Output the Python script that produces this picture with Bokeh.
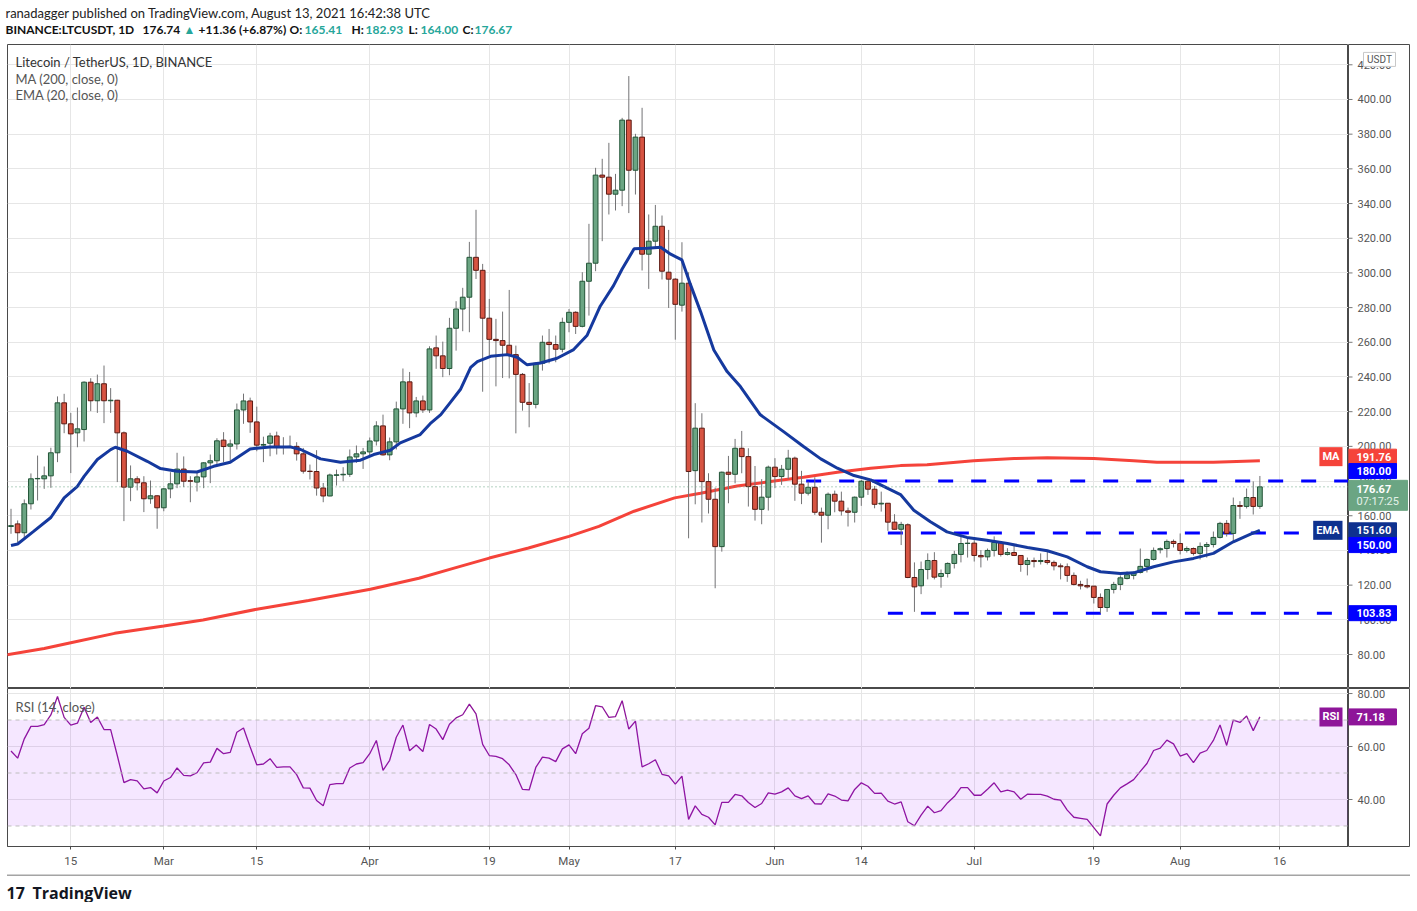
from bokeh.plotting import figure
from bokeh.models import Range1d, FixedTicker, Label, Span, ColumnDataSource, BoxAnnotation
from bokeh.layouts import column, row
from bokeh.core.properties import value
from bokeh.embed import file_html
from bokeh.resources import INLINE

# ---------------- data (day 0 = 2021-02-06, daily candles to 2021-08-13) ----------------
opens = [153.8,155.3,150.2,166.9,181.3,181.3,183.0,196.3,225.1,213.0,
         207.8,209.7,237.0,226.3,236.1,226.3,226.6,207.8,176.5,181.3,
         179.0,169.8,171.5,164.6,175.5,178.4,186.9,180.2,179.4,182.4,
         190.5,191.7,203.6,200.1,201.4,221.0,226.2,214.1,200.7,201.8,
         206.0,199.7,199.8,200.0,195.7,185.7,185.5,176.0,171.4,183.3,
         183.6,183.9,193.9,195.7,196.8,203.1,211.8,195.1,202.6,221.6,
         237.2,219.3,226.2,221.0,256.8,252.2,244.9,268.1,279.2,286.0,
         309.0,301.5,273.9,261.7,261.0,258.3,252.9,241.5,225.4,224.2,
         247.9,260.0,258.7,256.0,271.5,277.3,269.2,295.2,305.6,356.4,
         355.2,345.4,347.7,388.1,359.2,378.3,310.8,318.3,326.9,300.4,
         296.4,281.4,294.1,186.0,210.5,179.7,169.5,142.2,185.1,183.9,
         198.9,194.1,176.8,163.7,170.7,188.0,182.6,186.8,193.2,178.2,
         173.0,176.4,162.0,160.3,172.4,168.4,162.8,162.0,170.7,179.9,
         175.3,166.8,167.2,156.3,152.2,154.8,124.4,119.6,129.0,134.2,
         125.0,126.7,132.5,137.7,144.0,144.2,137.1,136.3,140.0,144.6,
         137.7,138.8,137.1,131.9,134.2,133.6,134.2,133.1,131.1,130.6,
         125.6,120.4,119.8,119.4,112.9,107.1,117.5,120.4,123.8,125.6,
         127.3,130.8,134.8,140.4,141.1,145.2,144.0,140.0,141.1,138.3,
         142.3,143.4,147.5,155.6,149.8,165.9,165.4,170.5,165.41]
highs = [164.0,157.3,169.4,184.4,194.7,188.4,199.2,228.8,230.3,219.3,
         222.4,237.5,239.3,241.4,246.6,233.6,226.8,208.6,189.0,182.8,
         182.8,180.3,171.8,175.9,185.1,196.3,194.2,182.8,184.7,190.9,
         195.3,204.7,208.2,203.9,224.7,230.4,228.1,222.9,205.6,207.8,
         208.5,205.3,206.2,202.4,199.1,189.5,197.8,178.9,184.3,186.6,
         188.0,198.2,200.5,199.1,205.1,214.5,218.3,205.1,225.8,244.9,
         242.9,228.5,229.3,257.7,263.9,260.4,274.1,283.7,291.4,317.9,
         336.4,305.2,285.0,273.5,277.7,290.2,258.1,242.3,236.5,248.5,
         263.9,267.7,263.9,274.2,279.2,277.9,300.4,328.3,360.6,365.8,
         375.0,357.1,389.4,413.5,380.2,395.2,333.7,339.2,333.1,324.8,
         297.0,317.7,300.4,224.9,219.1,184.5,176.2,185.5,194.5,204.3,
         208.9,198.9,188.7,181.1,188.9,193.2,189.3,198.0,194.1,185.9,
         179.7,182.2,164.7,173.4,174.5,173.9,164.7,171.1,180.7,181.6,
         177.2,173.9,167.3,160.9,156.5,155.6,133.1,133.6,138.3,139.0,
         129.0,133.1,139.8,149.2,147.5,145.9,140.2,141.1,148.1,144.8,
         141.3,142.9,137.3,135.9,135.9,138.3,139.6,134.2,132.5,132.5,
         127.3,122.5,123.8,119.6,115.2,117.6,121.9,125.6,127.9,127.9,
         141.1,135.4,141.7,141.7,146.3,146.3,149.8,142.3,141.7,144.6,
         144.8,150.9,156.5,157.5,170.5,168.4,175.7,179.8,182.93]
lows = [149.6,144.8,146.7,163.6,168.8,175.5,176.1,190.9,207.6,184.6,
        199.5,202.8,220.3,219.3,213.4,219.3,179.4,156.9,168.4,174.6,
        162.1,166.9,152.5,162.6,170.1,175.9,176.5,167.8,174.0,175.9,
        178.8,188.4,190.9,191.4,198.2,213.0,207.8,197.2,190.9,194.3,
        195.3,195.3,199.1,191.8,184.3,180.9,171.6,167.8,171.2,177.4,
        179.9,182.4,190.5,187.0,194.3,200.5,194.7,192.0,198.2,213.0,
        210.5,216.8,219.3,219.3,244.7,239.9,241.0,255.2,266.4,265.8,
        296.5,231.5,252.3,234.6,239.4,239.2,207.5,220.6,211.0,221.9,
        243.7,247.9,248.5,254.2,265.8,264.8,268.6,275.4,301.0,318.3,
        333.7,336.0,338.5,334.5,345.2,301.4,290.8,313.9,296.2,279.8,
        261.5,277.7,147.0,166.6,156.1,161.3,118.2,139.3,167.2,178.7,
        184.5,165.3,157.2,155.1,163.0,175.9,177.8,181.2,168.6,166.7,
        171.7,160.5,144.5,152.2,162.0,160.1,153.8,156.1,165.7,172.0,
        164.3,162.4,151.3,152.0,143.1,124.0,104.6,114.8,123.3,123.3,
        118.5,124.4,129.6,133.1,135.9,133.6,130.2,134.2,136.5,136.5,
        137.1,136.9,127.7,125.6,130.2,131.9,131.9,128.5,123.3,121.9,
        119.8,117.5,118.1,109.4,103.7,104.6,115.2,117.1,123.3,123.3,
        126.7,127.3,134.2,138.3,135.9,141.7,137.7,138.8,137.1,134.8,
        135.9,141.7,146.9,148.0,145.0,158.2,164.2,160.7,164.0]
closes = [154.3,150.2,166.9,181.3,181.5,183.0,196.3,225.1,213.0,207.2,
          210.1,237.0,226.3,236.1,226.3,226.6,207.8,176.5,181.3,179.0,
          169.8,171.5,164.6,175.5,178.4,186.9,179.9,179.9,182.4,190.5,
          191.7,203.2,199.9,201.4,221.0,226.2,214.1,200.7,201.1,206.0,
          199.7,199.9,200.0,195.7,185.7,185.5,176.0,171.4,183.5,183.6,
          183.9,193.9,195.7,196.8,203.1,211.8,195.1,202.6,221.6,237.2,
          219.3,226.2,221.0,256.2,252.2,244.9,268.1,279.2,286.0,309.0,
          301.5,273.9,261.7,261.0,258.3,252.9,241.5,225.4,224.2,247.9,
          260.0,258.7,256.0,271.5,277.3,269.2,295.2,305.6,356.4,355.2,
          345.4,347.7,388.1,359.2,378.3,310.8,318.3,326.9,301.0,296.4,
          281.9,294.1,185.5,210.5,179.7,169.5,142.2,185.1,183.9,198.9,
          194.1,176.8,163.7,170.7,188.0,182.6,186.8,193.2,178.2,173.0,
          176.4,162.0,160.3,172.4,168.4,162.8,162.0,170.7,179.9,175.3,
          166.6,167.2,156.3,152.2,155.0,124.4,119.0,129.0,134.2,124.6,
          126.7,132.5,137.7,144.0,144.2,137.1,136.3,140.0,144.6,137.7,
          138.8,137.1,131.9,134.2,133.6,134.2,133.1,131.1,130.6,125.6,
          120.4,119.6,119.0,112.9,107.1,117.5,120.4,124.2,126.0,127.3,
          130.8,134.8,140.0,141.0,145.2,144.0,140.0,141.1,138.3,142.3,
          143.4,147.5,155.6,149.8,165.9,165.4,170.5,165.38,176.67]

rsi = [58.3,55.6,62.9,67.6,67.6,68.3,71.9,78.9,71.0,68.1,
       68.8,74.8,69.1,71.1,66.4,66.4,56.6,46.4,47.5,47.0,
       44.0,44.5,42.5,47.0,48.3,51.9,49.1,48.9,50.1,53.8,
       54.1,59.3,57.3,57.8,65.4,67.0,59.8,53.1,53.4,55.4,
       52.1,52.3,52.3,49.4,44.4,44.3,39.6,37.6,45.6,46.0,
       46.0,51.9,53.4,53.9,57.3,62.3,51.0,54.8,63.5,68.1,
       58.4,60.6,58.1,68.3,66.6,62.6,68.4,70.8,72.0,76.0,
       72.3,60.8,56.6,56.3,55.4,53.1,49.4,43.8,43.6,52.1,
       56.0,55.6,54.3,59.1,60.6,57.3,64.8,66.9,75.4,75.0,
       71.0,71.3,77.3,66.6,69.6,52.3,53.5,55.0,49.5,48.9,
       45.8,48.8,32.5,37.6,34.4,33.3,30.4,38.9,38.9,41.9,
       41.4,38.9,37.0,38.5,42.5,42.0,42.9,44.4,41.4,40.3,
       41.4,38.4,38.3,42.1,41.3,39.8,39.5,43.8,46.3,45.0,
       42.3,42.4,39.4,38.3,39.1,31.6,30.1,34.1,37.5,35.0,
       35.8,38.8,41.1,44.5,44.5,41.6,41.6,43.9,46.3,42.9,
       43.5,42.9,40.1,42.0,41.9,41.9,41.3,40.1,39.8,36.0,
       33.3,32.9,32.5,29.4,26.3,38.3,41.6,44.4,45.9,47.5,
       50.6,53.6,58.5,59.4,62.4,61.0,56.4,57.3,53.9,57.5,
       58.5,62.3,68.1,60.4,70.0,69.1,71.5,66.0,71.18]

ema_day = [0, 1, 3.4, 6, 8, 10, 11, 13, 15, 15.7, 17.5, 20.5, 22.5, 25, 28, 30.5, 33, 36, 39, 42,
           43.6, 46.6, 49.6, 52.6, 54.6, 57.1, 58.6, 61.6, 63.1, 64.7, 66.2, 67.7, 69.2, 70.2, 72.2,
           74.7, 76.2, 77.7, 79.7, 82.2, 84.7, 86.7, 88.7, 90.7, 92, 93.8, 95.8, 97.8, 99.3, 101,
           102.3, 103.8, 105.8, 107.8, 109.8, 112.8, 116.3, 119.3, 121.9, 124.4, 126.9, 129.4, 131.9,
           133.9, 135.9, 138.4, 140.9, 143.9, 146.9, 150, 153, 156, 159, 162, 164, 167, 169, 172, 175,
           178, 181, 184, 186.6, 188]
ema_val = [142.8, 143.7, 151, 159, 170.3, 177, 182.7, 192.4, 198.1, 199.5, 197.2, 191.4, 187.2, 185.6,
           185.2, 188.5, 190.8, 198.5, 199.7, 199.7, 198.2, 192.8, 190.8, 192, 195.3, 197.8, 202, 206.8,
           213.1, 218.3, 225.7, 233.1, 245.6, 248.9, 251.9, 252.9, 251.4, 247, 248.1, 250.8, 255.8, 263.9,
           280.8, 292.7, 302.3, 313.9, 314.2, 314.8, 310.8, 307.5, 293.1, 277.7, 255.6, 243.1, 234.5,
           218.2, 208.5, 199.9, 192.8, 187.4, 183.2, 180.7, 175.9, 172.2, 163.2, 156.5, 150.7, 147.5,
           145.9, 144, 141.7, 139.8, 136.3, 130.6, 127.7, 126.7, 127.1, 130.6, 133.4, 135.4, 138.3, 145,
           149.4, 151.6]

ma_day = [-0.6, 5, 9, 15.6, 23, 28.9, 37, 44.8, 54.1, 61.4, 66.7, 72, 77.9, 84, 88.5, 93.8, 99.9,
          103.8, 109.3, 114.3, 119.3, 124.4, 129.4, 133.9, 137.9, 144.9, 151, 156, 163, 169, 172.5, 181, 188]
ma_val = [79.8, 83.5, 86.8, 92.2, 96.4, 99.9, 106.1, 111.1, 117.6, 124, 129.8, 135.6, 141.4, 148.1, 153.9,
          162.6, 170.3, 173, 177.2, 179.7, 182.2, 185.1, 187.4, 188.9, 189.4, 191.7, 193, 193.4, 193,
          191.7, 190.9, 190.9, 191.76]

level_price = [180.0, 150.0, 103.83]
level_start = [119.7, 132.0, 132.0]

time_ticks = [9, 23, 37, 54, 72, 84, 100, 115, 128, 145, 163, 176, 191]
time_labels = ["15", "Mar", "15", "Apr", "19", "May", "17", "Jun", "14", "Jul", "19", "Aug", "16"]
price_ticks = [80, 100, 120, 140, 160, 180, 200, 220, 240, 260, 280, 300, 320, 340, 360, 380, 400, 420]
rsi_ticks = [40, 60, 80]

# ---------------- style ----------------
FONT = "Roboto"
UI = "Lato"
UP_FILL, UP_LINE = "#6BA583", "#225437"
DN_FILL, DN_LINE = "#D75442", "#5B1A13"
WICK = "#737375"
GRID = "#E6E6E6"
FRAME = "#4A4A4A"
MA_COL, EMA_COL, LVL_COL, RSI_COL = "#F5433A", "#15399E", "#0000FF", "#8E1599"
LEFT = 7                     # blank strip left of the chart frame
FRAME_W, SIDE_W = 1341, 62
MAIN_W = LEFT + FRAME_W
W = MAIN_W + SIDE_W
X0, X1 = -0.527, 201.34
PX_PRICE = 644 / (431.7 - 60.4)     # pixels per price unit

xr = Range1d(X0, X1)
yr_price = Range1d(60.4, 431.7)
yr_rsi = Range1d(22.26, 81.9)
n = len(closes)
days = list(range(n))
up = [c >= o for o, c in zip(opens, closes)]
src = ColumnDataSource(dict(
    x=days, h=highs, l=lows,
    top=[max(o, c) for o, c in zip(opens, closes)],
    bot=[min(o, c) for o, c in zip(opens, closes)],
    fill=[UP_FILL if u else DN_FILL for u in up],
    line=[UP_LINE if u else DN_LINE for u in up],
))


def plain(width, height, xrange, yrange, **kw):
    kw.setdefault("min_border", 0)
    return figure(width=width, height=height, x_range=xrange, y_range=yrange,
                  output_backend="svg", toolbar_location=None, x_axis_location=None,
                  y_axis_location=None, **kw)

# ---------------- header ----------------
hdr = plain(W, 44, Range1d(0, W), Range1d(44, 0), outline_line_color=None)
hdr.xgrid.visible = False
hdr.ygrid.visible = False
hdr.text(x=[5], y=[12], text=["ranadagger published on TradingView.com, August 13, 2021 16:42:38 UTC"],
         text_font=value(UI), text_font_size="13px", text_color="#222222", text_baseline="middle")
h2_text = ["BINANCE:LTCUSDT, 1D", "176.74", "\u25b2", "+11.36 (+6.87%)", "O:", "165.41",
           "H:", "182.93", "L:", "164.00", "C:", "176.67"]
h2_x = [5, 142, 183, 198, 289, 304, 351, 365, 408, 420, 462, 474]
h2_col = ["#111111", "#111111", "#26A69A", "#111111", "#111111", "#26A69A",
          "#111111", "#26A69A", "#111111", "#26A69A", "#111111", "#26A69A"]
hdr.text(x=h2_x, y=[29] * len(h2_x), text=h2_text, text_color=h2_col,
         text_font=value(UI), text_font_size="12px", text_font_style="bold", text_baseline="middle")

# ---------------- main price pane ----------------
main = plain(MAIN_W, 644, xr, yr_price, min_border_left=LEFT, min_border_right=0,
             min_border_top=0, min_border_bottom=0)
main.outline_line_color = FRAME
main.xgrid.ticker = FixedTicker(ticks=time_ticks)
main.ygrid.ticker = FixedTicker(ticks=price_ticks)
main.xgrid.grid_line_color = GRID
main.ygrid.grid_line_color = GRID

main.add_layout(Span(location=closes[-1], dimension="width", line_color="#6BA583",
                     line_dash="1 3", line_width=1))
main.line(ma_day, ma_val, line_color=MA_COL, line_width=3)
main.segment(x0=level_start, y0=level_price, x1=[X1] * 3, y1=level_price,
             line_color=LVL_COL, line_width=3, line_dash="15 18")
main.segment(x0="x", y0="h", x1="x", y1="l", source=src, line_color=WICK, line_width=1)
main.vbar(x="x", width=0.72, top="top", bottom="bot", source=src,
          fill_color="fill", line_color="line", line_width=1)
main.line(ema_day, ema_val, line_color=EMA_COL, line_width=3)


def legend(fig, y, text, color, y_units="screen"):
    fig.add_layout(Label(x=8, y=y, x_units="screen", y_units=y_units, text=text,
                         text_font=UI, text_font_size="13px", text_color=color,
                         text_baseline="middle"))

legend(main, 627, "Litecoin / TetherUS, 1D, BINANCE", "#333333")
legend(main, 610, "MA (200, close, 0)", "#555555")
legend(main, 594, "EMA (20, close, 0)", "#555555")


def inner_tag(fig, y, text, bg):
    fig.add_layout(Label(x=FRAME_W - 6, y=y, x_units="screen", y_units="data", text=text,
                         text_font=FONT, text_font_size="11px", text_font_style="bold",
                         text_color="white", text_align="right", text_baseline="middle",
                         background_fill_color=bg, padding=3))

inner_tag(main, ma_val[-1] + 4 / PX_PRICE, "MA", MA_COL)
inner_tag(main, ema_val[-1], "EMA", "#0E318F")

# ---------------- price scale (right column) ----------------
side = plain(SIDE_W, 644, Range1d(0, SIDE_W), yr_price)
side.outline_line_color = FRAME
side.xgrid.visible = False
side.ygrid.visible = False
side.segment(x0=[0] * len(price_ticks), y0=price_ticks, x1=[4] * len(price_ticks), y1=price_ticks,
             line_color="#787878", line_width=1)
side.text(x=[9] * len(price_ticks), y=price_ticks, text=[f"{t:.2f}" for t in price_ticks],
          text_font=value(FONT), text_font_size="11px", text_color="#555555", text_baseline="middle")

tag_val = [ma_val[-1], level_price[0], ema_val[-1], level_price[1], level_price[2]]
tag_off = [4, 10, 0, -12, 0]                     # pixel shifts that keep the tags apart
tag_text = [f"{v:.2f}" for v in tag_val]
tag_col = [MA_COL, LVL_COL, "#0E318F", LVL_COL, LVL_COL]
tag_y = [v + o / PX_PRICE for v, o in zip(tag_val, tag_off)]
side.rect(x=[24] * 5, y=tag_y, width=[48] * 5, height=15, height_units="screen",
          fill_color=tag_col, line_color=tag_col)
side.text(x=[8] * 5, y=tag_y, text=tag_text, text_font=value(FONT), text_font_size="11px",
          text_font_style="bold", text_color="white", text_baseline="middle")
# last price + countdown
last_y = closes[-1] - 2 / PX_PRICE
side.rect(x=[29.5], y=[last_y - 6.5 / PX_PRICE], width=[59], height=30, height_units="screen",
          fill_color="#6BA583", line_color="#6BA583")
side.text(x=[8], y=[last_y], text=[f"{closes[-1]:.2f}"], text_font=value(FONT), text_font_size="11px",
          text_font_style="bold", text_color="white", text_baseline="middle")
side.text(x=[8], y=[last_y - 13 / PX_PRICE], text=["07:17:25"], text_font=value(FONT),
          text_font_size="11px", text_color="#E3F2E8", text_baseline="middle")
# currency badge
side.rect(x=[31], y=[423.1], width=[32], height=14, height_units="screen",
          fill_color="white", line_color="#C8C8C8")
side.text(x=[31], y=[423.1], text=["USDT"], text_font=value(FONT), text_font_size="10px",
          text_color="#555555", text_align="center", text_baseline="middle")

# ---------------- RSI pane ----------------
rf = figure(width=MAIN_W, height=186, x_range=xr, y_range=yr_rsi,
            output_backend="svg", toolbar_location=None, y_axis_location=None,
            min_border_left=LEFT, min_border_right=0, min_border_top=0, min_border_bottom=28)
rf.outline_line_color = FRAME
rf.xaxis.ticker = FixedTicker(ticks=time_ticks)
rf.xaxis.major_label_overrides = {t: l for t, l in zip(time_ticks, time_labels)}
rf.xgrid.ticker = FixedTicker(ticks=time_ticks)
rf.ygrid.ticker = FixedTicker(ticks=rsi_ticks)
rf.xgrid.grid_line_color = GRID
rf.ygrid.grid_line_color = GRID
rf.xaxis.axis_line_color = FRAME
rf.xaxis.major_tick_out = 3
rf.xaxis.major_tick_in = 0
rf.xaxis.major_tick_line_color = FRAME
rf.xaxis.minor_tick_line_color = None
rf.xaxis.major_label_text_font = FONT
rf.xaxis.major_label_text_font_size = "11.5px"
rf.xaxis.major_label_text_color = "#555555"
rf.xaxis.major_label_standoff = 4

rf.add_layout(BoxAnnotation(bottom=30, top=70, fill_color="#9915FF", fill_alpha=0.1, line_alpha=0))
for lvl in (70, 50, 30):
    rf.add_layout(Span(location=lvl, dimension="width", line_color="#BDBDBD",
                       line_dash="4 4", line_width=1))
rf.line(days, rsi, line_color=RSI_COL, line_width=1.3)
legend(rf, 75.1, "RSI (14, close)", "#555555", y_units="data")
inner_tag(rf, rsi[-1], "RSI", RSI_COL)

rside = plain(SIDE_W, 186, Range1d(0, SIDE_W), yr_rsi)
rside.outline_line_color = FRAME
rside.xgrid.visible = False
rside.ygrid.visible = False
rside.segment(x0=[0] * 3, y0=rsi_ticks, x1=[4] * 3, y1=rsi_ticks, line_color="#787878", line_width=1)
rside.text(x=[9] * 3, y=rsi_ticks, text=[f"{t:.2f}" for t in rsi_ticks], text_font=value(FONT),
           text_font_size="11px", text_color="#555555", text_baseline="middle")
rside.rect(x=[24], y=[rsi[-1]], width=[48], height=16, height_units="screen",
           fill_color=RSI_COL, line_color=RSI_COL)
rside.text(x=[8], y=[rsi[-1]], text=[f"{rsi[-1]:.2f}"], text_font=value(FONT), text_font_size="11px",
           text_font_style="bold", text_color="white", text_baseline="middle")

# ---------------- footer ----------------
ftr = plain(W, 28, Range1d(0, W), Range1d(28, 0), outline_line_color=None)
ftr.xgrid.visible = False
ftr.ygrid.visible = False
ftr.segment(x0=[LEFT - 0.5], y0=[0.5], x1=[W], y1=[0.5], line_color=FRAME, line_width=1)
ftr.text(x=[6], y=[18], text=["17"], text_font=value("Open Sans"), text_font_size="16px",
         text_font_style="bold", text_color="#131722", text_baseline="middle")
ftr.text(x=[32], y=[18], text=["TradingView"], text_font=value("Open Sans"), text_font_size="16px",
         text_font_style="bold", text_color="#131722", text_baseline="middle")

layout = column(hdr, row(main, side, spacing=0), row(rf, rside, spacing=0), ftr, spacing=0)
open("out.html", "w").write(file_html(layout, INLINE))
